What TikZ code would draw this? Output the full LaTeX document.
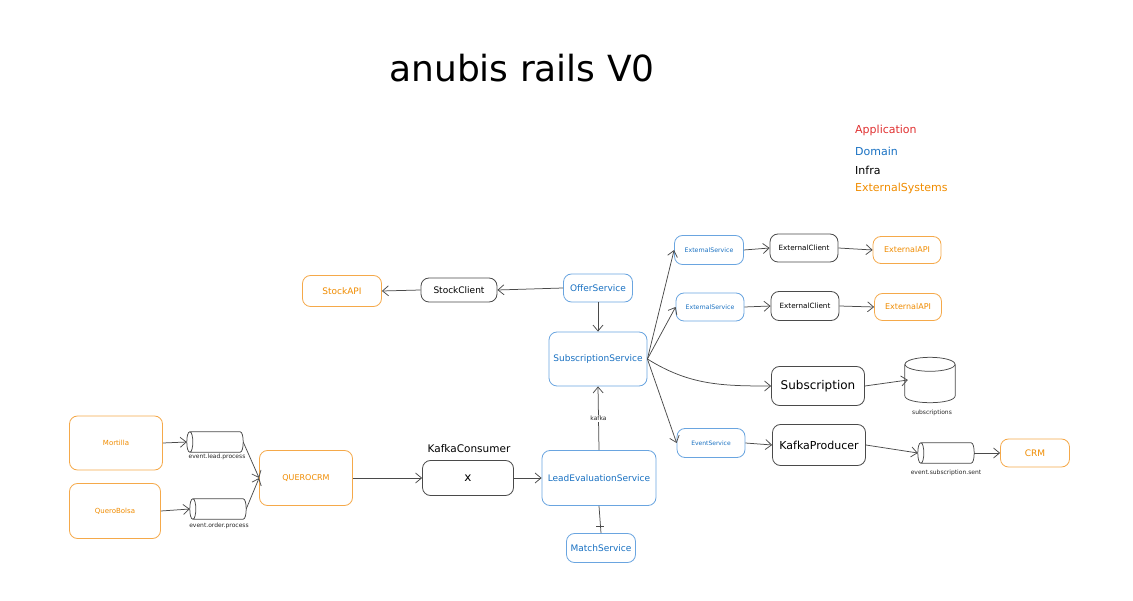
\documentclass[tikz,border=0pt]{standalone}
\usepackage{fontspec}
\setmainfont{DejaVu Sans}
\usetikzlibrary{arrows.meta}
\definecolor{orgtxt}{HTML}{F08C00}
\definecolor{orgbd}{HTML}{F5A94A}
\definecolor{bluetxt}{HTML}{1971C2}
\definecolor{bluebd}{HTML}{6AA5E0}
\definecolor{redtxt}{HTML}{E03131}
\definecolor{ink}{HTML}{4A4A4A}
\newcommand\fsz[1]{\fontsize{#1}{#1}\selectfont}
% horizontal queue cylinder drawn on the anchors of a named node
\newcommand\hcyl[1]{%
  \draw[cyl] (#1.north west) -- (#1.north east)
     .. controls ([xshift=4pt]#1.north east) and ([xshift=4pt]#1.south east) .. (#1.south east)
     -- (#1.south west)
     .. controls ([xshift=-4pt]#1.south west) and ([xshift=-4pt]#1.north west) .. (#1.north west)
     .. controls ([xshift=4pt]#1.north west) and ([xshift=4pt]#1.south west) .. (#1.south west);}
% vertical database cylinder
\newcommand\vcyl[1]{%
  \draw[cyl] ([yshift=-7pt]#1.north) ellipse[x radius=25pt, y radius=7pt];
  \draw[cyl] ([yshift=-7pt]#1.north west) -- ([yshift=7pt]#1.south west)
     .. controls ([yshift=-2.33pt]#1.south west) and ([yshift=-2.33pt]#1.south east) .. ([yshift=7pt]#1.south east)
     -- ([yshift=-7pt]#1.north east);}
\begin{document}
\begin{tikzpicture}[x=1pt,y=-1pt,
  box/.style={draw, rounded corners=8pt, line width=0.8pt, fill=white, inner sep=0pt, align=center},
  ext/.style={box, draw=orgbd, text=orgtxt},
  dom/.style={box, draw=bluebd, text=bluetxt},
  inf/.style={box, draw=ink, text=black},
  conn/.style={draw=ink, line width=0.75pt, -{Straight Barb[length=6pt,width=10pt]}},
  cyl/.style={draw=ink, line width=0.75pt},
  qbox/.style={minimum width=50pt, minimum height=20pt, inner sep=0pt},
  lbl/.style={font=\fsz{6}, text=black!85, inner sep=1pt},
  legend/.style={anchor=west, font=\fsz{11}, inner sep=0pt}
]
\useasboundingbox (0,0) rectangle (1133,601);

% title and legend
\node (title) at (522,68) {\fsz{36}anubis rails V0};
\node[legend, text=redtxt] (lapp) at (855,130) {Application};
\node[legend, text=bluetxt] (ldom) at (855,151) {Domain};
\node[legend, text=black] (linf) at (855,170) {Infra};
\node[legend, text=orgtxt] (lext) at (855,188) {ExternalSystems};

% left side
\node[ext, minimum width=93pt, minimum height=54pt, font=\fsz{7}] (mort) at (116,443) {Mortilla};
\node[ext, minimum width=91pt, minimum height=55pt, font=\fsz{7}] (qb) at (115,511) {QueroBolsa};
\node[qbox] (q1) at (215,442) {};
\hcyl{q1}
\node[lbl] (q1l) at (217,457) {event.lead.process};
\node[qbox] (q2) at (218,509) {};
\hcyl{q2}
\node[lbl] (q2l) at (219,526) {event.order.process};
\node[ext, minimum width=93pt, minimum height=55pt, font=\fsz{8}] (qcrm) at (306,478) {QUEROCRM};
\node[inf, minimum width=91pt, minimum height=35pt, font=\fsz{12}] (kc) at (468,478) {x};
\node[font=\fsz{10.5}] (kcl) at (469,449) {KafkaConsumer};

% center
\node[dom, minimum width=114pt, minimum height=55pt, font=\fsz{9}] (les) at (599,478) {LeadEvaluationService};
\node[dom, minimum width=69pt, minimum height=29pt, font=\fsz{9}] (ms) at (601,548) {MatchService};
\node[dom, minimum width=98pt, minimum height=54pt, font=\fsz{9}] (ss) at (598,359) {SubscriptionService};
\node[dom, minimum width=69pt, minimum height=28pt, font=\fsz{9}] (os) at (598,288) {OfferService};
\node[inf, minimum width=76pt, minimum height=24pt, font=\fsz{9}] (sc) at (459,290) {StockClient};
\node[ext, minimum width=79pt, minimum height=31pt, font=\fsz{9}] (sapi) at (342,291) {StockAPI};

% right side
\node[dom, minimum width=69pt, minimum height=29pt, font=\fsz{6.2}] (es1) at (709,250) {ExternalService};
\node[inf, minimum width=68pt, minimum height=28pt, font=\fsz{7.2}] (ec1) at (804,248) {ExternalClient};
\node[ext, minimum width=68pt, minimum height=27pt, font=\fsz{8}] (ea1) at (907,250) {ExternalAPI};
\node[dom, minimum width=68pt, minimum height=28pt, font=\fsz{6.2}] (es2) at (710,307) {ExternalService};
\node[inf, minimum width=68pt, minimum height=29pt, font=\fsz{7.2}] (ec2) at (805,306) {ExternalClient};
\node[ext, minimum width=67pt, minimum height=27pt, font=\fsz{8}] (ea2) at (908,307) {ExternalAPI};
\node[inf, minimum width=93pt, minimum height=39pt, font=\fsz{12}] (sub) at (818,386) {Subscription};
\node[minimum width=50pt, minimum height=45pt, inner sep=0pt] (db) at (930,380) {};
\vcyl{db}
\node[lbl] (dbl) at (932,413) {subscriptions};
\node[dom, minimum width=68pt, minimum height=29pt, font=\fsz{6}] (evs) at (711,443) {EventService};
\node[inf, minimum width=93pt, minimum height=41pt, font=\fsz{11}] (kp) at (819,445) {KafkaProducer};
\node[qbox] (q3) at (946,453) {};
\hcyl{q3}
\node[lbl] (q3l) at (946,473) {event.subscription.sent};
\node[ext, minimum width=69pt, minimum height=28pt, font=\fsz{9}] (crm) at (1035,453) {CRM};

% connectors
\draw[conn] (mort.east) -- ([xshift=-3pt]q1.west);
\draw[conn] (qb.east) -- ([xshift=-3pt]q2.west);
\draw[conn] ([xshift=3pt]q1.east) -- (qcrm.west);
\draw[conn] ([xshift=3pt]q2.east) -- (qcrm.west);
\draw[conn] (qcrm.east) -- (kc.west);
\draw[conn] (kc.east) -- (les.west);
\draw[draw=ink, line width=0.75pt] (les.south) -- coordinate[pos=0.74] (tick) (ms.north);
\draw[draw=ink, line width=0.75pt] (tick) +(-4,0) -- +(4,0);
\draw[conn] (les.north) -- node[lbl, fill=white] (kafkal) {kafka} (ss.south);
\draw[conn] (os.south) -- (ss.north);
\draw[conn] (os.west) -- (sc.east);
\draw[conn] (sc.west) -- (sapi.east);
\draw[conn] (ss.east) -- (es1.west);
\draw[conn] (ss.east) -- (es2.west);
\draw[conn] (ss.east) to[out=-32,in=180] (sub.west);
\draw[conn] (ss.east) -- (evs.west);
\draw[conn] (es1.east) -- (ec1.west);
\draw[conn] (ec1.east) -- (ea1.west);
\draw[conn] (es2.east) -- (ec2.west);
\draw[conn] (ec2.east) -- (ea2.west);
\draw[conn] (sub.east) -- ([xshift=3pt]db.west);
\draw[conn] (evs.east) -- (kp.west);
\draw[conn] (kp.east) -- ([xshift=-3pt]q3.west);
\draw[conn] ([xshift=3pt]q3.east) -- (crm.west);
\end{tikzpicture}
\end{document}
